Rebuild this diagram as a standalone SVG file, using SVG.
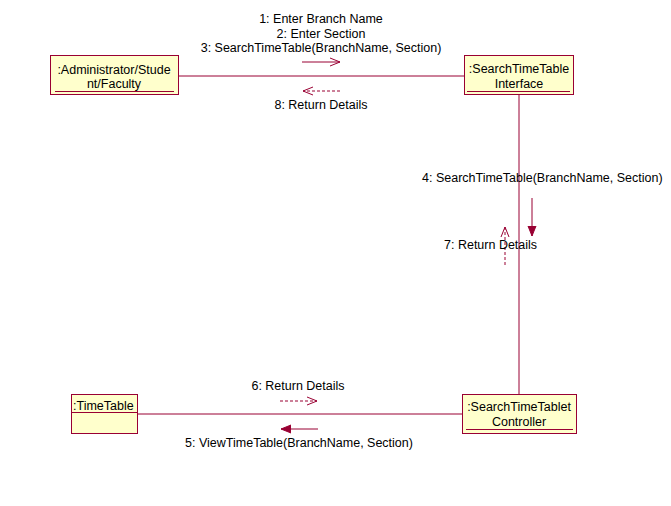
<svg xmlns="http://www.w3.org/2000/svg" width="671" height="506" viewBox="0 0 671 506">
<style>
.box{fill:#FFFFCC;stroke:#990033;stroke-width:1}
.ul{stroke:#990033;stroke-width:1}
.ln{stroke:#990033;stroke-width:1;fill:none}
.dash{stroke:#990033;stroke-width:1;fill:none;stroke-dasharray:3,2}
.t{font-family:"Liberation Sans",Arial,sans-serif;font-size:12.5px;fill:#000}
.m{text-anchor:middle}
</style>
<defs>
<marker id="open" viewBox="0 0 10 10" refX="10" refY="5" markerWidth="10" markerHeight="10" markerUnits="userSpaceOnUse" orient="auto">
<path d="M0,1 L10,5 L0,9" fill="none" stroke="#990033" stroke-width="1"/>
</marker>
<marker id="filled" viewBox="0 0 10 10" refX="10" refY="5" markerWidth="10" markerHeight="10" markerUnits="userSpaceOnUse" orient="auto">
<path d="M0,1 L10,5 L0,9 Z" fill="#990033" stroke="#990033" stroke-width="1"/>
</marker>
</defs>
<g id="connectors">
<line class="ln" x1="178" y1="76" x2="464" y2="76"/>
<line class="ln" x1="519" y1="94" x2="519" y2="394"/>
<line class="ln" x1="137" y1="414" x2="462" y2="414"/>
<line class="ln" x1="302" y1="62" x2="340" y2="62" marker-end="url(#open)"/>
<line class="dash" x1="340" y1="91" x2="303" y2="91" marker-end="url(#open)"/>
<line class="ln" x1="532" y1="198" x2="532" y2="236" marker-end="url(#filled)"/>
<line class="dash" x1="505" y1="265" x2="505" y2="227" marker-end="url(#open)"/>
<line class="dash" x1="280" y1="401" x2="317" y2="401" marker-end="url(#open)"/>
<line class="ln" x1="318" y1="429" x2="281" y2="429" marker-end="url(#filled)"/>
<text class="t m" x="321" y="23">1: Enter Branch Name</text>
<text class="t m" x="321" y="38">2: Enter Section</text>
<text class="t m" x="321" y="52">3: SearchTimeTable(BranchName, Section)</text>
<text class="t m" x="321" y="109">8: Return Details</text>
<text class="t" x="422" y="182">4: SearchTimeTable(BranchName, Section)</text>
<text class="t" x="444" y="249">7: Return Details</text>
<text class="t m" x="298" y="390">6: Return Details</text>
<text class="t m" x="299" y="447">5: ViewTimeTable(BranchName, Section)</text>
</g>
<g id="admin">
<rect class="box" x="50.5" y="55.5" width="128" height="39"/>
<line class="ul" x1="55" y1="91.5" x2="174" y2="91.5"/>
<text class="t m" x="114" y="74">:Administrator/Stude</text>
<text class="t m" x="114" y="88">nt/Faculty</text>
</g>
<g id="interface">
<rect class="box" x="464.5" y="55.5" width="109" height="39"/>
<line class="ul" x1="467" y1="91.5" x2="570" y2="91.5"/>
<text class="t m" x="519" y="73">:SearchTimeTable</text>
<text class="t m" x="519" y="88">Interface</text>
</g>
<g id="controller">
<rect class="box" x="462.5" y="394.5" width="114" height="39"/>
<line class="ul" x1="466" y1="429.5" x2="573" y2="429.5"/>
<text class="t m" x="519" y="411">:SearchTimeTablet</text>
<text class="t m" x="519" y="426">Controller</text>
</g>
<g id="timetable">
<rect class="box" x="71.5" y="394.5" width="66" height="39"/>
<line class="ul" x1="72" y1="412.5" x2="137" y2="412.5"/>
<text class="t" x="73" y="410">:TimeTable</text>
</g>
</svg>
